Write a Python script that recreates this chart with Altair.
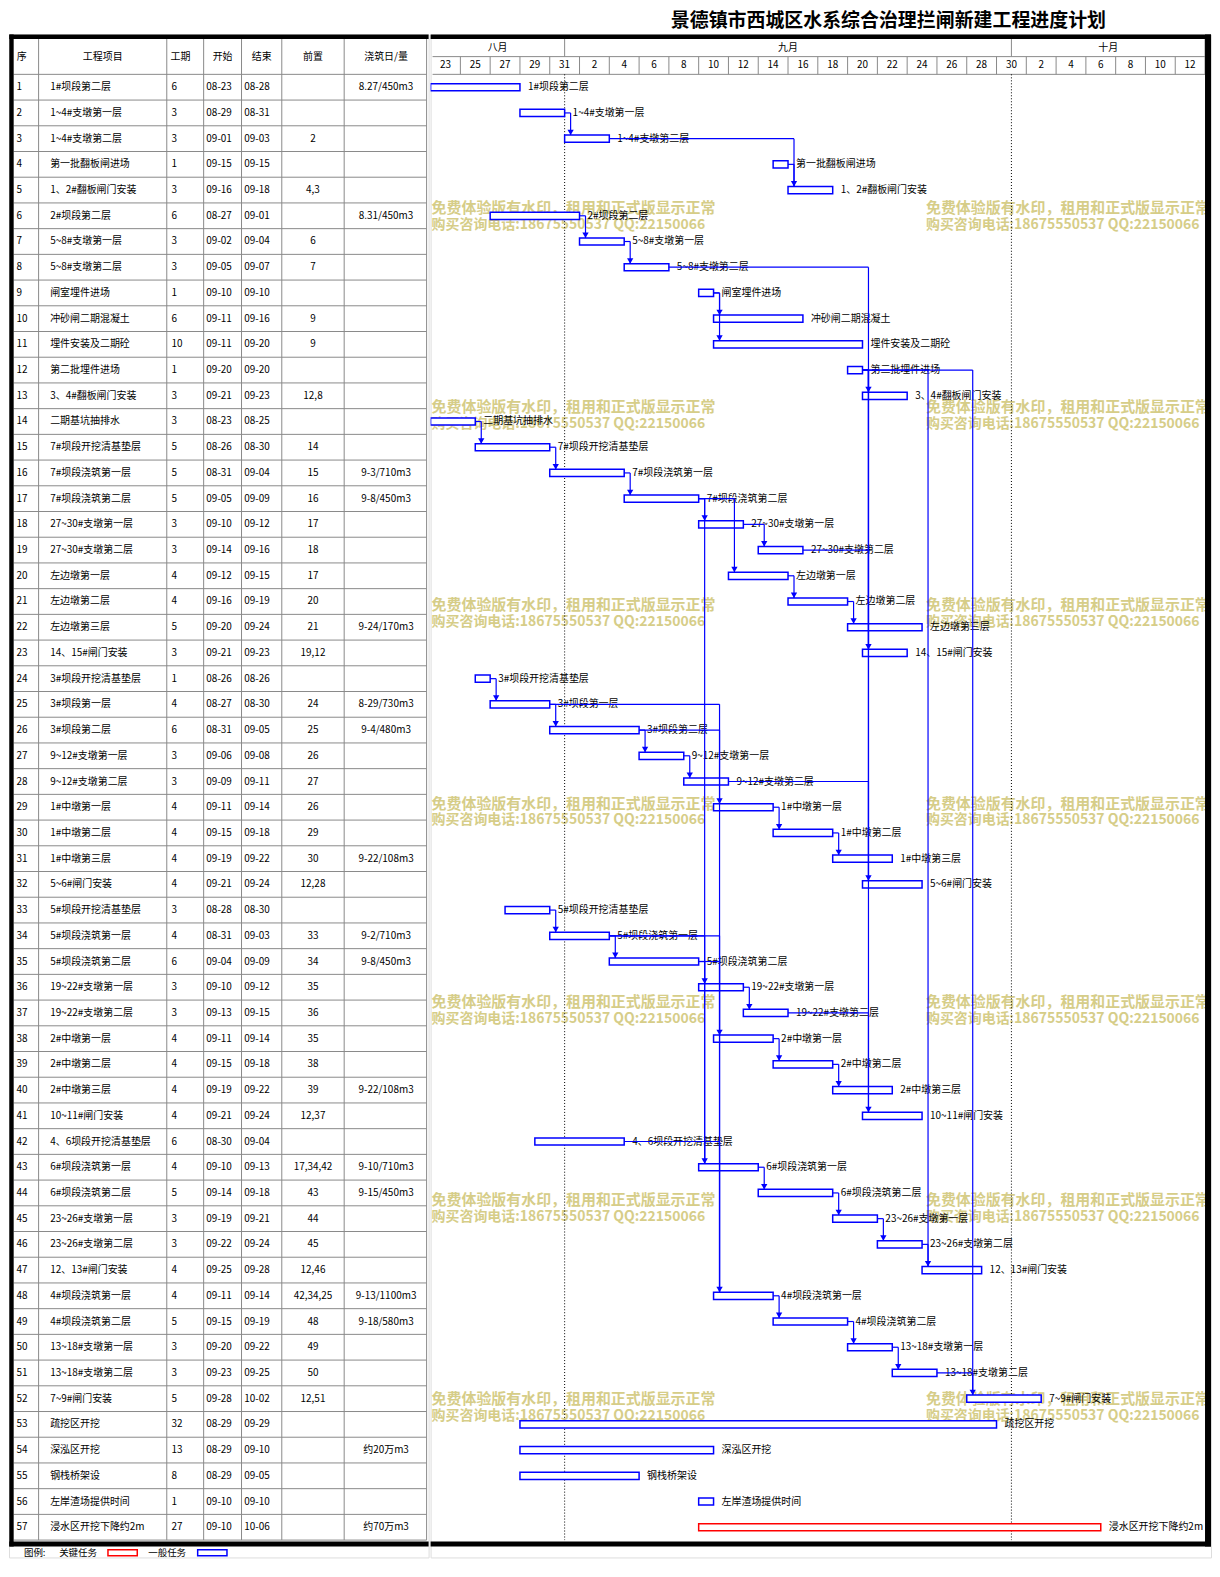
import altair as alt
import pandas as pd

# ---------------- data ----------------
TITLE = "景德镇市西城区水系综合治理拦闸新建工程进度计划"
task_ids = list(range(1, 58))
task_names = [
    "1#坝段第二层", "1~4#支墩第一层", "1~4#支墩第二层", "第一批翻板闸进场", "1、2#翻板闸门安装",
    "2#坝段第二层", "5~8#支墩第一层", "5~8#支墩第二层", "闸室埋件进场", "冲砂闸二期混凝土",
    "埋件安装及二期砼", "第二批埋件进场", "3、4#翻板闸门安装", "二期基坑抽排水", "7#坝段开挖清基垫层",
    "7#坝段浇筑第一层", "7#坝段浇筑第二层", "27~30#支墩第一层", "27~30#支墩第二层", "左边墩第一层",
    "左边墩第二层", "左边墩第三层", "14、15#闸门安装", "3#坝段开挖清基垫层", "3#坝段第一层",
    "3#坝段第二层", "9~12#支墩第一层", "9~12#支墩第二层", "1#中墩第一层", "1#中墩第二层",
    "1#中墩第三层", "5~6#闸门安装", "5#坝段开挖清基垫层", "5#坝段浇筑第一层", "5#坝段浇筑第二层",
    "19~22#支墩第一层", "19~22#支墩第二层", "2#中墩第一层", "2#中墩第二层", "2#中墩第三层",
    "10~11#闸门安装", "4、6坝段开挖清基垫层", "6#坝段浇筑第一层", "6#坝段浇筑第二层", "23~26#支墩第一层",
    "23~26#支墩第二层", "12、13#闸门安装", "4#坝段浇筑第一层", "4#坝段浇筑第二层", "13~18#支墩第一层",
    "13~18#支墩第二层", "7~9#闸门安装", "疏挖区开挖", "深泓区开挖", "钢栈桥架设",
    "左岸渣场提供时间", "浸水区开挖下降约2m",
]
durations = [6, 3, 3, 1, 3, 6, 3, 3, 1, 6, 10, 1, 3, 3, 5, 5, 5, 3, 3, 4, 4, 5, 3, 1, 4, 6, 3, 3, 4,
             4, 4, 4, 3, 4, 6, 3, 3, 4, 4, 4, 4, 6, 4, 5, 3, 3, 4, 4, 5, 3, 3, 5, 32, 13, 8, 1, 27]
starts = ["08-23", "08-29", "09-01", "09-15", "09-16", "08-27", "09-02", "09-05", "09-10", "09-11",
          "09-11", "09-20", "09-21", "08-23", "08-26", "08-31", "09-05", "09-10", "09-14", "09-12",
          "09-16", "09-20", "09-21", "08-26", "08-27", "08-31", "09-06", "09-09", "09-11", "09-15",
          "09-19", "09-21", "08-28", "08-31", "09-04", "09-10", "09-13", "09-11", "09-15", "09-19",
          "09-21", "08-30", "09-10", "09-14", "09-19", "09-22", "09-25", "09-11", "09-15", "09-20",
          "09-23", "09-28", "08-29", "08-29", "08-29", "09-10", "09-10"]
ends = ["08-28", "08-31", "09-03", "09-15", "09-18", "09-01", "09-04", "09-07", "09-10", "09-16",
        "09-20", "09-20", "09-23", "08-25", "08-30", "09-04", "09-09", "09-12", "09-16", "09-15",
        "09-19", "09-24", "09-23", "08-26", "08-30", "09-05", "09-08", "09-11", "09-14", "09-18",
        "09-22", "09-24", "08-30", "09-03", "09-09", "09-12", "09-15", "09-14", "09-18", "09-22",
        "09-24", "09-04", "09-13", "09-18", "09-21", "09-24", "09-28", "09-14", "09-19", "09-22",
        "09-25", "10-02", "09-29", "09-10", "09-05", "09-10", "10-06"]
predecessors = {3: "2", 5: "4,3", 7: "6", 8: "7", 10: "9", 11: "9", 13: "12,8", 15: "14", 16: "15",
                17: "16", 18: "17", 19: "18", 20: "17", 21: "20", 22: "21", 23: "19,12", 25: "24",
                26: "25", 27: "26", 28: "27", 29: "26", 30: "29", 31: "30", 32: "12,28", 34: "33",
                35: "34", 36: "35", 37: "36", 38: "35", 39: "38", 40: "39", 41: "12,37",
                43: "17,34,42", 44: "43", 45: "44", 46: "45", 47: "12,46", 48: "42,34,25", 49: "48",
                50: "49", 51: "50", 52: "12,51"}
pours = {1: "8.27/450m3", 6: "8.31/450m3", 16: "9-3/710m3", 17: "9-8/450m3", 22: "9-24/170m3",
         25: "8-29/730m3", 26: "9-4/480m3", 31: "9-22/108m3", 34: "9-2/710m3", 35: "9-8/450m3",
         40: "9-22/108m3", 43: "9-10/710m3", 44: "9-15/450m3", 48: "9-13/1100m3", 49: "9-18/580m3",
         54: "约20万m3", 57: "约70万m3"}
critical_ids = [57]
header_labels = ["序", "工程项目", "工期", "开始", "结束", "前置", "浇筑日/量"]
month_labels = ["八月", "九月", "十月"]
month_numbers = [8, 9, 10]
day_labels = [23, 25, 27, 29, 31, 2, 4, 6, 8, 10, 12, 14, 16, 18, 20, 22, 24, 26, 28, 30, 2, 4, 6, 8, 10, 12]
legend_title = "图例:"
legend_labels = ["关键任务", "一般任务"]
watermark_lines = ["免费体验版有水印，租用和正式版显示正常", "购买咨询电话:18675550537 QQ:22150066"]
TIMELINE_START = "08-23"
YEAR = "2000"

# ---------------- layout / style ----------------
FONT = "Noto Sans CJK SC"
BLUE, RED, GRID, WM = "#0000ff", "#ff0000", "#8a8a8a", "#d6cd88"
TABLE_W, GANTT_W, DAY_W_PX = 421, 783, 777
ROW_TOP, ROW_H = 40, 25.8
HDR_TOP, HDR_SPLIT, HDR_BOT = 4.4, 22.2, 40
N = len(task_ids)
BODY_BOT = ROW_TOP + N * ROW_H
BORDER_B0, BORDER_B1 = BODY_BOT + 1.4, BODY_BOT + 6.4
LEG_Y = BODY_BOT + 12.6
H = int(LEG_Y + 5)
TITLE_Y, TITLE_X, TITLE_SIZE = -22.5, 241, 19
BAR_HALF = 3.6 / ROW_H
ARROW_DX_PX = 6
COL_EDGES = [29.7, 158.3, 195.3, 233.3, 273.7, 336.3]
BODY_COLS = [("id_s", 7.5, "left"), ("name", 41.3, "left"), ("dur", 163, "left"),
             ("start", 198, "left"), ("end", 236, "left"), ("pred", 305, "center"),
             ("pour", 378.3, "center")]
HDR_POS = [(7.7, "left"), (94, "center"), (162, "left"), (214.3, "center"),
           (253.5, "center"), (305, "center"), (378.3, "center")]
WM_X_PX = [1, 497]
WM_ROW0, WM_ROW_STEP, WM_COUNT, WM_LINE_DY = 5.44, 7.715, 7, 17

n_days = 2 * len(day_labels)
day_px = DAY_W_PX / n_days
base = pd.Timestamp(f"{YEAR}-{TIMELINE_START}")


def off(md):
    return (pd.Timestamp(f"{YEAR}-{md}") - base).days


tasks = pd.DataFrame({"id": task_ids, "name": task_names, "dur": [str(d) for d in durations],
                      "start": starts, "end": ends})
tasks["row"] = tasks["id"]
tasks["id_s"] = tasks["id"].astype(str)
tasks["s"] = [off(v) for v in starts]
tasks["e"] = [off(v) + 1 for v in ends]
tasks["y0"] = tasks["row"] - BAR_HALF
tasks["y1"] = tasks["row"] + BAR_HALF
tasks["pred"] = [predecessors.get(i, "") for i in task_ids]
tasks["pour"] = [pours.get(i, "") for i in task_ids]
tasks["type"] = [legend_labels[0] if i in critical_ids else legend_labels[1] for i in task_ids]

# dependency links
by_id = tasks.set_index("id")
segs, arrows = [], []
dx_days = ARROW_DX_PX / day_px
for sid, plist in predecessors.items():
    xv = by_id.loc[sid, "s"] + dx_days
    ys = by_id.loc[sid, "row"]
    for p in [int(v) for v in plist.split(",")]:
        xe = by_id.loc[p, "e"]
        yp = by_id.loc[p, "row"]
        segs.append({"x": xe, "x2": max(xv, xe), "y": yp, "y2": yp})
        segs.append({"x": xv, "x2": xv, "y": yp, "y2": ys - BAR_HALF})
    arrows.append({"x": xv, "y": ys - BAR_HALF - 2.7 / ROW_H})
segs = pd.DataFrame(segs)
arrows = pd.DataFrame(arrows)

# months / days
m_edges = [0] + [off(f"{m:02d}-01") for m in month_numbers[1:]] + [n_days]
months = pd.DataFrame({"label": month_labels,
                       "c": [(a + b) / 2 for a, b in zip(m_edges[:-1], m_edges[1:])]})
days = pd.DataFrame({"label": [str(d) for d in day_labels],
                     "c": [2 * k + 1 for k in range(len(day_labels))]})
day_lines = pd.DataFrame({"o": [2 * k for k in range(1, len(day_labels))]})
month_lines = pd.DataFrame({"o": m_edges[1:-1]})

wm = pd.DataFrame([{"wx": xp / day_px, "wy": WM_ROW0 + k * WM_ROW_STEP,
                    "t1": watermark_lines[0], "t2": watermark_lines[1]}
                   for k in range(WM_COUNT) for xp in WM_X_PX])

row_lines = pd.DataFrame({"b": [i + 0.5 for i in range(N + 1)]})
col_lines = pd.DataFrame({"edge": COL_EDGES})
one = pd.DataFrame({"a": [0]})
title_df = pd.DataFrame({"t": [TITLE]})

Y = alt.Scale(domain=[0.5, N + 0.5], range=[ROW_TOP, BODY_BOT], nice=False, zero=False)
X = alt.Scale(domain=[0, n_days], range=[0, DAY_W_PX], nice=False, zero=False)


def yrow(f):
    return alt.Y(f"{f}:Q", scale=Y, axis=None)


def xday(f):
    return alt.X(f"{f}:Q", scale=X, axis=None)


def block(x0, x1, y0, y1, color="black"):
    return alt.Chart(one).mark_rect(fill=color, strokeWidth=0).encode(
        x=alt.value(x0), x2=alt.value(x1), y=alt.value(y0), y2=alt.value(y1))


# ---------------- table ----------------
tlayers = []
# invisible twin of the title so both panels share the same top bound
tlayers.append(alt.Chart(pd.DataFrame({"t": [TITLE[0]]})).mark_text(
    align="left", baseline="top", fontSize=TITLE_SIZE, fontWeight="bold", opacity=0).encode(
    x=alt.value(100), y=alt.value(TITLE_Y), text="t:N"))
tlayers.append(alt.Chart(row_lines).mark_rule(color=GRID, strokeWidth=1).encode(
    y=yrow("b"), x=alt.value(4.7), x2=alt.value(TABLE_W - 2)))
tlayers.append(alt.Chart(col_lines).mark_rule(color=GRID, strokeWidth=1).encode(
    x=alt.X("edge:Q", scale=None), y=alt.value(HDR_TOP), y2=alt.value(BODY_BOT)))
tlayers.append(alt.Chart(one).mark_rule(color=GRID, strokeWidth=1).encode(
    x=alt.value(TABLE_W - 2), y=alt.value(HDR_TOP), y2=alt.value(BODY_BOT)))
for (col, xp, al) in BODY_COLS:
    tlayers.append(alt.Chart(tasks).mark_text(align=al, baseline="middle", fontSize=10, color="black").encode(
        x=alt.value(xp), y=yrow("row"), text=f"{col}:N"))
for lab, (xp, al) in zip(header_labels, HDR_POS):
    tlayers.append(alt.Chart(pd.DataFrame({"t": [lab]})).mark_text(
        align=al, baseline="middle", fontSize=10, color="black").encode(
        x=alt.value(xp), y=alt.value(HDR_SPLIT), text="t:N"))
# borders
tlayers.append(block(0.3, TABLE_W, 0, HDR_TOP))
tlayers.append(block(0.3, TABLE_W, BORDER_B0, BORDER_B1))
tlayers.append(block(0.3, 4.7, 0, BORDER_B1))
# legend
for t, xp in [(legend_title, 15), (legend_labels[0], 50.3), (legend_labels[1], 139.7)]:
    tlayers.append(alt.Chart(pd.DataFrame({"t": [t]})).mark_text(
        align="left", baseline="middle", fontSize=9.5, color="black").encode(
        x=alt.value(xp), y=alt.value(LEG_Y), text="t:N"))
for col, x0 in [(RED, 99.3), (BLUE, 189.3)]:
    tlayers.append(alt.Chart(one).mark_rect(fill="white", stroke=col, strokeWidth=1.5).encode(
        x=alt.value(x0), x2=alt.value(x0 + 29.4), y=alt.value(LEG_Y - 3), y2=alt.value(LEG_Y + 3)))

table = alt.layer(*tlayers).properties(width=TABLE_W, height=H)

# ---------------- gantt ----------------
g = []
g.append(alt.Chart(title_df).mark_text(
    align="left", baseline="top", fontSize=TITLE_SIZE, fontWeight="bold", color="black").encode(
    x=alt.value(TITLE_X), y=alt.value(TITLE_Y), text="t:N"))
g.append(alt.Chart(wm).mark_text(align="left", baseline="top", fontSize=15, fontWeight="bold",
                                 color=WM, clip=True).encode(
    x=xday("wx"), y=yrow("wy"), text="t1:N"))
g.append(alt.Chart(wm).mark_text(align="left", baseline="top", fontSize=14, fontWeight="bold",
                                 color=WM, clip=True, dy=WM_LINE_DY).encode(
    x=xday("wx"), y=yrow("wy"), text="t2:N"))
# header
g.append(alt.Chart(months).mark_text(baseline="middle", fontSize=10, color="black").encode(
    x=xday("c"), y=alt.value((HDR_TOP + HDR_SPLIT) / 2 + 0.6), text="label:N"))
g.append(alt.Chart(days).mark_text(baseline="middle", fontSize=10, color="black").encode(
    x=xday("c"), y=alt.value((HDR_SPLIT + HDR_BOT) / 2), text="label:N"))
g.append(alt.Chart(day_lines).mark_rule(color=GRID, strokeWidth=1).encode(
    x=xday("o"), y=alt.value(HDR_SPLIT), y2=alt.value(HDR_BOT)))
g.append(alt.Chart(month_lines).mark_rule(color=GRID, strokeWidth=1).encode(
    x=xday("o"), y=alt.value(HDR_TOP), y2=alt.value(HDR_SPLIT)))
g.append(alt.Chart(one).mark_rule(color=GRID, strokeWidth=1).encode(
    x=alt.value(2), x2=alt.value(DAY_W_PX), y=alt.value(HDR_SPLIT)))
g.append(alt.Chart(one).mark_rule(color=GRID, strokeWidth=1).encode(
    x=alt.value(2), x2=alt.value(DAY_W_PX), y=alt.value(HDR_BOT)))
g.append(alt.Chart(one).mark_rule(color=GRID, strokeWidth=1).encode(
    x=alt.value(DAY_W_PX), y=alt.value(HDR_TOP), y2=alt.value(HDR_BOT)))
g.append(alt.Chart(month_lines).mark_rule(color="black", strokeWidth=1, strokeDash=[1, 2]).encode(
    x=xday("o"), y=alt.value(HDR_BOT), y2=alt.value(BODY_BOT)))
# bars and labels
g.append(alt.Chart(tasks).mark_rect(fill="white", strokeWidth=1.5, clip=True).encode(
    x=xday("s"), x2="e:Q", y=yrow("y0"), y2="y1:Q",
    stroke=alt.Stroke("type:N", scale=alt.Scale(domain=legend_labels, range=[RED, BLUE]), legend=None)))
g.append(alt.Chart(tasks).mark_text(align="left", baseline="middle", dx=8, fontSize=10, color="black").encode(
    x=xday("e"), y=yrow("row"), text="name:N"))
g.append(alt.Chart(segs).mark_rule(color=BLUE, strokeWidth=1.2).encode(
    x=xday("x"), x2="x2:Q", y=yrow("y"), y2="y2:Q"))
g.append(alt.Chart(arrows).mark_point(shape="triangle-down", filled=True, size=40, color=BLUE, opacity=1).encode(
    x=xday("x"), y=yrow("y")))
# borders
g.append(block(0, GANTT_W, 0, HDR_TOP))
g.append(block(0, GANTT_W, BORDER_B0, BORDER_B1))
g.append(block(GANTT_W - 6, GANTT_W, 0, BORDER_B1))

gantt = alt.layer(*g).properties(width=GANTT_W, height=H)

chart = alt.hconcat(table, gantt, spacing=0).properties(
    padding={"left": 0, "top": 1, "right": 0, "bottom": 0},
).configure_view(strokeWidth=0).configure(font=FONT)

chart.save("out.html", embed_options={"renderer": "svg", "actions": False})
